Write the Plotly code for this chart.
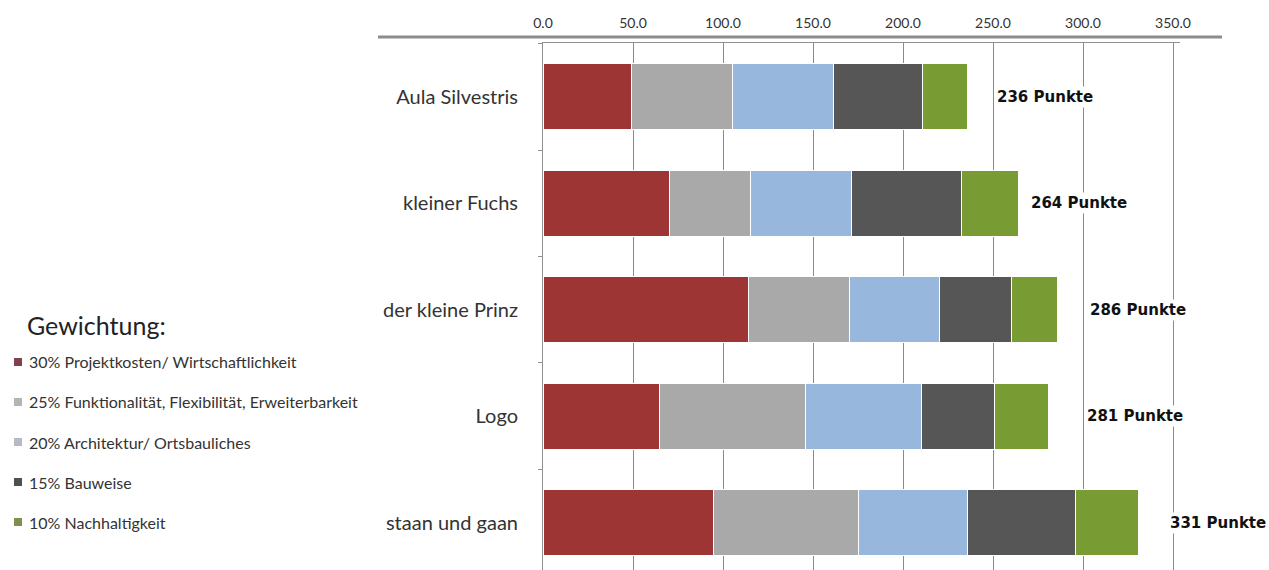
import plotly.graph_objects as go

# Entwürfe (oben nach unten) und Punkte je Kriterium
entwuerfe = ["Aula Silvestris", "kleiner Fuchs", "der kleine Prinz", "Logo", "staan und gaan"]
kriterien = [
    "30% Projektkosten/ Wirtschaftlichkeit",
    "25% Funktionalität, Flexibilität, Erweiterbarkeit",
    "20% Architektur/ Ortsbauliches",
    "15% Bauweise",
    "10% Nachhaltigkeit",
]
projektkosten = [49.0, 70.0, 114.0, 64.5, 94.5]
funktionalitaet = [56.5, 45.0, 56.5, 81.5, 81.0]
architektur = [56.0, 56.5, 50.0, 64.5, 60.5]
bauweise = [49.5, 61.0, 40.0, 40.5, 60.0]
nachhaltigkeit = [25.0, 31.5, 25.5, 30.0, 35.0]
x_ticks = [0, 50, 100, 150, 200, 250, 300, 350]

serien = [projektkosten, funktionalitaet, architektur, bauweise, nachhaltigkeit]
bar_farben = ["#9c3533", "#a9a9a9", "#97b7dd", "#565656", "#789b34"]
legenden_farben = ["#80404c", "#b4b4b4", "#b9b9c6", "#4f4f4f", "#7f8f4e"]

W, H = 1269, 570
L, R, T, B = 543, 89, 43, 0
PW, PH = W - L - R, H - T - B
PX_PER_UNIT = 1.8
X_MAX = PW / PX_PER_UNIT  # Achse reicht knapp über 350 hinaus


def px(x):
    return (x - L) / PW


def py(y):
    return (H - B - y) / PH


fig = go.Figure()
for name, werte, farbe in zip(kriterien, serien, bar_farben):
    fig.add_trace(go.Bar(
        y=entwuerfe, x=werte, name=name, orientation="h",
        marker=dict(color=farbe, line=dict(color="white", width=1)),
        showlegend=False, hoverinfo="x+name",
    ))

totals = [round(sum(v)) for v in zip(*serien)]
label_offset = [15, 6, 17, 20, 16]
annotations = []
for ent, tot, off in zip(entwuerfe, totals, label_offset):
    annotations.append(dict(
        x=tot + off, y=ent, xref="x", yref="y", xanchor="left",
        text=f"<b>{tot} Punkte</b>", showarrow=False, bgcolor="white",
        font=dict(family="DejaVu Sans", size=15, color="#111111"),
    ))

# Legende "Gewichtung"
annotations.append(dict(
    x=px(25), y=py(325), xref="paper", yref="paper", xanchor="left", yanchor="middle",
    text="Gewichtung:", showarrow=False,
    font=dict(family="Lato", size=25, color="#222222"),
))
shapes = []
legend_y = [362, 402, 442, 482, 522]
for name, farbe, ly in zip(kriterien, legenden_farben, legend_y):
    shapes.append(dict(
        type="rect", xref="paper", yref="paper",
        x0=px(14), x1=px(22), y0=py(ly + 4), y1=py(ly - 4),
        fillcolor=farbe, line=dict(width=0),
    ))
    annotations.append(dict(
        x=px(27), y=py(ly), xref="paper", yref="paper", xanchor="left", yanchor="middle",
        text=name, showarrow=False,
        font=dict(family="Lato", size=16, color="#333333"),
    ))

# breite graue Linie über der Achse
shapes.append(dict(
    type="line", xref="paper", yref="paper",
    x0=px(378), x1=px(1222), y0=py(37), y1=py(37),
    line=dict(color="#8c8c8c", width=3),
))

fig.update_layout(
    width=W, height=H,
    margin=dict(l=L, r=R, t=T, b=B, autoexpand=False),
    barmode="stack", bargap=0.38,
    plot_bgcolor="white", paper_bgcolor="white",
    annotations=annotations, shapes=shapes,
    xaxis=dict(
        side="top", range=[0, X_MAX], tickvals=x_ticks,
        ticktext=[f"{v:.1f}" for v in x_ticks],
        showgrid=True, gridcolor="#8a8a8a", gridwidth=1,
        showline=True, linecolor="#8f8f8f", linewidth=1,
        zeroline=False, ticks="", ticklabelstandoff=8,
        tickfont=dict(family="Lato", size=14, color="#333333"),
    ),
    yaxis=dict(
        categoryorder="array", categoryarray=entwuerfe,
        range=[4.446, -0.507],
        showgrid=False, showline=True, linecolor="#8f8f8f", linewidth=1,
        ticks="outside", tickson="boundaries", ticklen=4, tickcolor="#8f8f8f",
        ticklabelstandoff=20,
        tickfont=dict(family="Lato", size=20, color="#333333"),
    ),
)

fig.write_html("out.html")
